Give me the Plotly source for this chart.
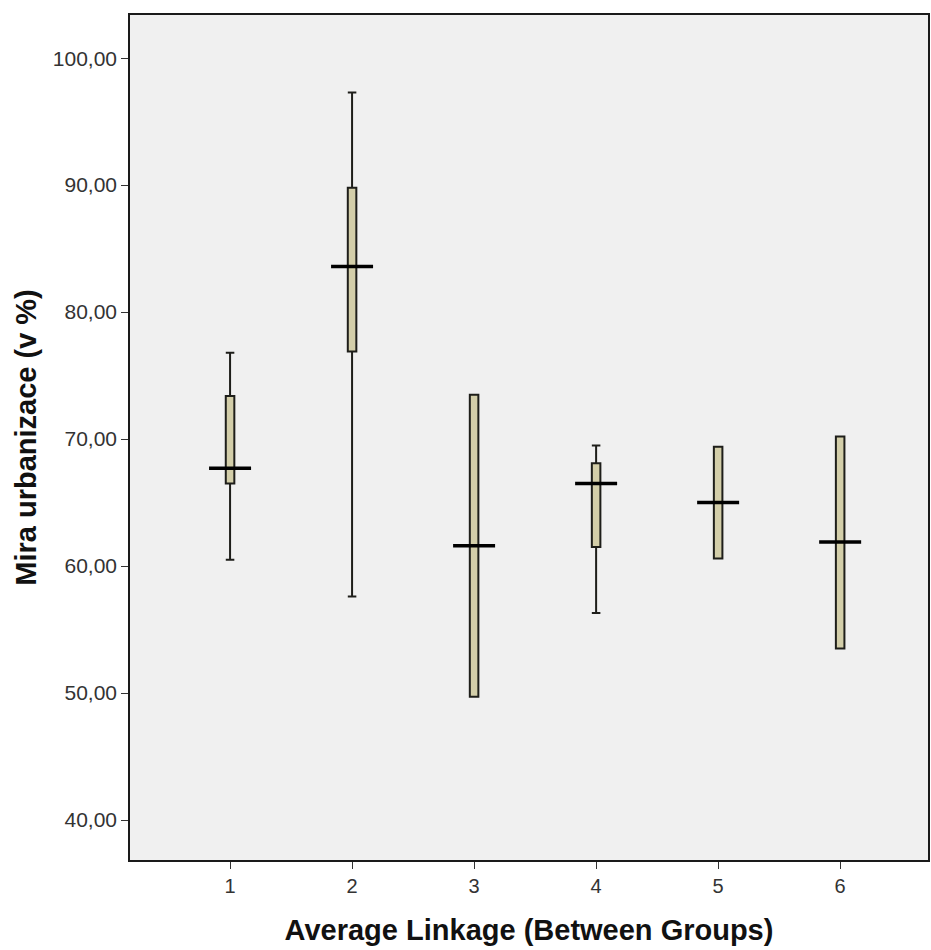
import plotly.graph_objects as go

# Cluster membership (Average Linkage) vs. urbanization rate summary statistics
groups = [1, 2, 3, 4, 5, 6]
whisker_low = [60.5, 57.6, 49.7, 56.3, 60.6, 53.5]
q1 = [66.5, 76.9, 49.7, 61.5, 60.6, 53.5]
median = [67.7, 83.6, 61.6, 66.5, 65.0, 61.9]
q3 = [73.4, 89.8, 73.5, 68.1, 69.4, 70.2]
whisker_high = [76.8, 97.3, 73.5, 69.5, 69.4, 70.2]

y_ticks = [40, 50, 60, 70, 80, 90, 100]

fig = go.Figure()

fig.add_trace(go.Box(
    x=groups,
    q1=q1,
    median=median,
    q3=q3,
    lowerfence=whisker_low,
    upperfence=whisker_high,
    width=0.07,
    whiskerwidth=1,
    fillcolor="#d3cea9",
    line=dict(color="#1e1e1a", width=2),
    boxpoints=False,
    showlegend=False,
    hoverinfo="skip",
))

# Median markers, drawn wider than the box
fig.add_trace(go.Scatter(
    x=groups,
    y=median,
    mode="markers",
    marker=dict(symbol="line-ew", size=30, line=dict(color="#000000", width=3.5)),
    showlegend=False,
    hoverinfo="skip",
))

fig.update_layout(
    width=931,
    height=950,
    margin=dict(l=130, r=1, t=15, b=90),
    paper_bgcolor="#ffffff",
    plot_bgcolor="#f0f0f0",
    separators=", ",
    font=dict(family="Liberation Sans, Arial, sans-serif", color="#222222"),
    xaxis=dict(
        range=[0.18, 6.72],
        tickmode="array",
        tickvals=groups,
        ticktext=[str(g) for g in groups],
        ticks="outside",
        ticklen=7,
        tickwidth=1,
        tickcolor="#333333",
        tickfont=dict(size=20, color="#333333"),
        showgrid=False,
        zeroline=False,
        showline=True,
        linecolor="#1a1a1a",
        linewidth=1.5,
        mirror=True,
        title=dict(
            text="<b>Average Linkage (Between Groups)</b>",
            font=dict(size=29, color="#111111"),
            standoff=24,
        ),
    ),
    yaxis=dict(
        range=[36.85, 103.4],
        tickmode="array",
        tickvals=y_ticks,
        tickformat=".2f",
        ticks="outside",
        ticklen=7,
        tickwidth=1,
        tickcolor="#333333",
        tickfont=dict(size=21, color="#333333"),
        showgrid=False,
        zeroline=False,
        showline=True,
        linecolor="#1a1a1a",
        linewidth=1.5,
        mirror=True,
        title=dict(
            text="<b>Mira urbanizace (v %)</b>",
            font=dict(size=29, color="#111111"),
            standoff=8,
        ),
    ),
)

fig.write_html("out.html")
